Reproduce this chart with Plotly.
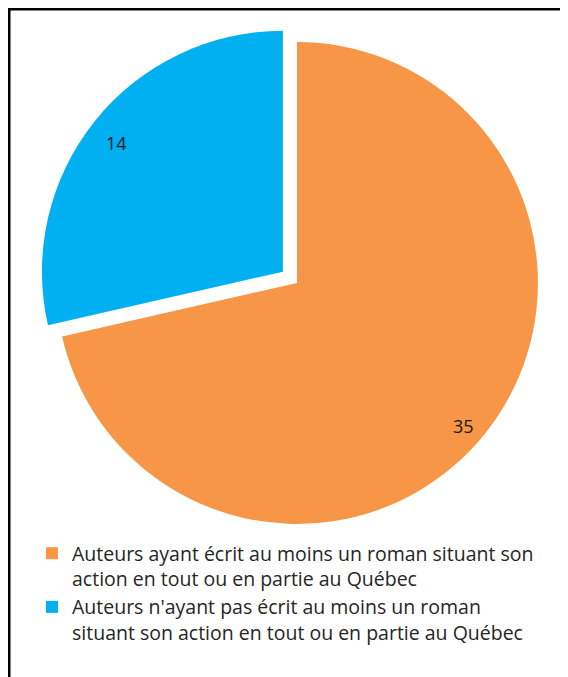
import math
import plotly.graph_objects as go

labels = [
    "Auteurs ayant écrit au moins un roman situant son<br>action en tout ou en partie au Québec",
    "Auteurs n'ayant pas écrit au moins un roman<br>situant son action en tout ou en partie au Québec",
]
values = [35, 14]
colors = ["#F79646", "#00B0F0"]
pulls = [0, 0.075]

W, H = 568, 677
# pie geometry in paper pixels (page adds an 8px body margin)
cx, cy, half = 289, 275, 259
dom_x = [(cx - half) / W, (cx + half) / W]
dom_y = [(H - cy - half) / H, (H - cy + half) / H]

fig = go.Figure(go.Pie(
    labels=labels,
    values=values,
    marker=dict(colors=colors),
    pull=pulls,
    sort=False,
    direction="clockwise",
    rotation=0,
    textinfo="none",
    hoverinfo="label+value",
    domain=dict(x=dom_x, y=dom_y),
))

# value labels placed near the outer edge of each slice ("inside end")
r = half / (1 + max(pulls))
total = sum(values)
cum = 0
for v, p in zip(values, pulls):
    mid = (cum + v / 2) / total * 2 * math.pi
    cum += v
    dx, dy = math.sin(mid), math.cos(mid)
    rr = r * 0.95 + r * p
    px_ = cx + dx * rr
    py_ = cy - dy * rr
    fig.add_annotation(x=px_ / W, y=1 - py_ / H, xref="paper", yref="paper",
                       text=str(v), showarrow=False,
                       font=dict(size=18, color="#1a1a1a", family="Open Sans"))

# frame (only left and top edges are visible in the picture)
fig.add_shape(type="rect", xref="paper", yref="paper",
              x0=1 / W, y0=-0.05, x1=1.05, y1=1 - 1 / H,
              line=dict(color="black", width=3))

fig.update_layout(
    width=W, height=H,
    margin=dict(l=0, r=0, t=0, b=0),
    paper_bgcolor="white",
    plot_bgcolor="white",
    font=dict(family="Open Sans", size=19.5, color="#262626"),
    showlegend=True,
    legend=dict(
        x=24 / W, y=1 - 526 / H, xanchor="left", yanchor="top",
        orientation="v", valign="top",
        font=dict(size=19.5, family="Open Sans", color="#262626"),
        itemclick=False,
    ),
)

fig.write_html("out.html")
